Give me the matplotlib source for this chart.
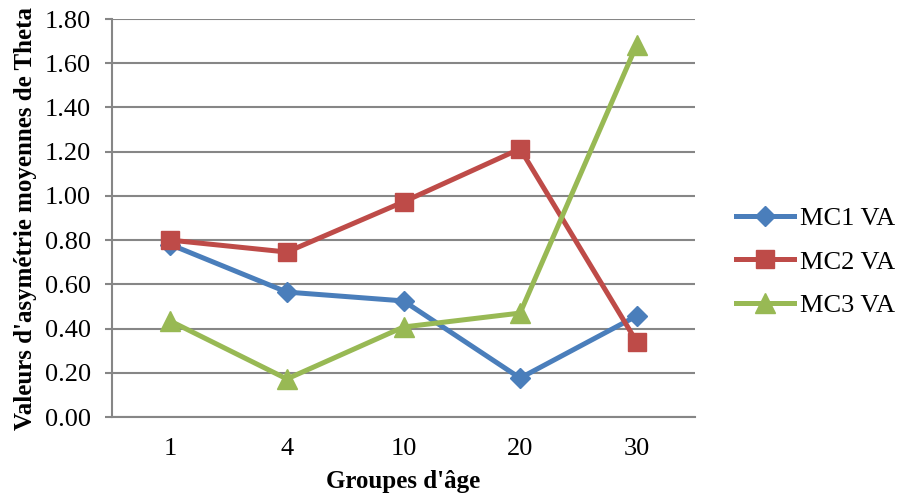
import matplotlib.pyplot as plt

plt.rcParams['font.family'] = ['Liberation Serif', 'DejaVu Serif']

# Age groups and mean Theta asymmetry values
groups = ['1', '4', '10', '20', '30']
mc1_va = [0.78, 0.565, 0.525, 0.176, 0.457]
mc2_va = [0.80, 0.746, 0.973, 1.213, 0.34]
mc3_va = [0.434, 0.172, 0.407, 0.47, 1.683]

fig = plt.figure(figsize=(8.97, 4.99), dpi=100)
ax = fig.add_axes([112 / 897, 1 - 417 / 499, 583 / 897, 398 / 499])

x = range(len(groups))
ax.plot(x, mc1_va, color='#4a7ebb', lw=3.6, marker='D', ms=10.5, label='MC1 VA')
ax.plot(x, mc2_va, color='#be4b48', lw=3.6, marker='s', ms=13.5, label='MC2 VA')
ax.plot(x, mc3_va, color='#98b954', lw=3.6, marker='^', ms=14, label='MC3 VA')

ax.set_xlim(-0.5, 4.5)
ax.set_ylim(0, 1.8)
ax.set_yticks([i * 0.2 for i in range(10)])
ax.set_yticklabels(['%.2f' % (i * 0.2) for i in range(10)], fontsize=19)
ax.set_xticks(list(x))
ax.set_xticklabels(groups, fontsize=19)
ax.tick_params(axis='x', length=0, pad=15)
ax.tick_params(axis='y', length=5, width=1.5, color='#868686', pad=10)

ax.yaxis.grid(True, color='#868686', lw=1.5)
ax.set_axisbelow(True)
for s in ['top', 'right']:
    ax.spines[s].set_visible(False)
for s in ['left', 'bottom']:
    ax.spines[s].set_color('#868686')
    ax.spines[s].set_linewidth(1.5)

ax.set_xlabel("Groupes d'âge", fontsize=18, fontweight='bold', labelpad=7)
ax.set_ylabel("Valeurs d'asymétrie moyennes de Theta", fontsize=18, fontweight='bold', labelpad=6)

ax.legend(loc='center left', bbox_to_anchor=(1.03, 0.39), frameon=False, fontsize=19,
          handlelength=2.2, labelspacing=0.75, handletextpad=0.2)

fig.savefig('out.png', dpi=100)
